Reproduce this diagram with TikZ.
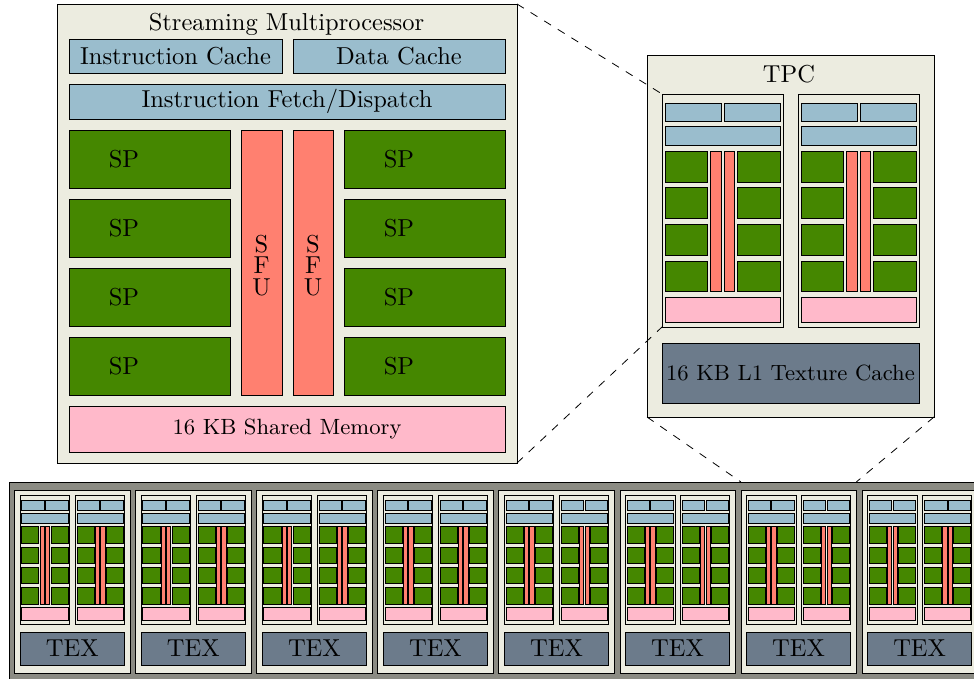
\documentclass[tikz,border=0pt]{standalone}
\usepackage{xcolor}
\usepackage{tikz}
\usetikzlibrary{positioning}
\definecolor{cIvory}{HTML}{ECECE0}
\definecolor{cGrey}{HTML}{8B8B83}
\definecolor{cBlue}{HTML}{9ABDCD}
\definecolor{cGreen}{HTML}{458700}
\definecolor{cSalmon}{HTML}{FF8070}
\definecolor{cPink}{HTML}{FFB9CA}
\definecolor{cSlate}{HTML}{6C7B8B}

% ---------- Helper macro: box from pixel corners ----------
\newcommand{\pxbox}[7]{%
  \pgfmathsetmacro{\bw}{#5-#3}
  \pgfmathsetmacro{\bh}{#6-#4}
  \node[#2, minimum width=\bw pt, minimum height=\bh pt] (#1) at ({(#3+#5)/2},{(#4+#6)/2}) {#7};
}
% ---------- Helper macro: one block, relative to the core origin ----------
\newcommand{\coreblk}[6]{%
  \pgfmathsetmacro{\xa}{\ox+#3*\sx}
  \pgfmathsetmacro{\ya}{\oy+#4*\sy}
  \pgfmathsetmacro{\xb}{\ox+#5*\sx}
  \pgfmathsetmacro{\yb}{\oy+#6*\sy}
  \pxbox{#1}{#2}{\xa}{\ya}{\xb}{\yb}{}
}
% ---------- Helper macro: blocks of a multiprocessor ----------
% #1 name, #2 #3 origin, #4 #5 scale
\newcommand{\smcore}[5]{%
  \def\ox{#2}\def\oy{#3}\def\sx{#4}\def\sy{#5}
  \coreblk{#1-ic}{cache}{0}{0}{213}{34}
  \coreblk{#1-dc}{cache}{224}{0}{436}{34}
  \coreblk{#1-ifd}{cache}{0}{45}{436}{80}
  \foreach \i/\yt in {1/91,2/160,3/229,4/298}{
    \pgfmathsetmacro{\yy}{\yt+58}
    \coreblk{#1-spl\i}{spblk}{0}{\yt}{161}{\yy}
    \coreblk{#1-spr\i}{spblk}{275}{\yt}{436}{\yy}
  }
  \coreblk{#1-sfa}{sfublk}{172}{91}{213}{356}
  \coreblk{#1-sfb}{sfublk}{224}{91}{264}{356}
  \coreblk{#1-mem}{memblk}{0}{367}{436}{413}
}

\begin{document}
\begin{tikzpicture}[
    x=1pt, y=-1pt,
    blk/.style={draw=black, line width=0.9pt, inner sep=0pt, outer sep=0pt},
    frame/.style={blk, fill=cIvory},
    cache/.style={blk, fill=cBlue},
    spblk/.style={blk, fill=cGreen},
    sfublk/.style={blk, fill=cSalmon},
    memblk/.style={blk, fill=cPink},
    texblk/.style={blk, fill=cSlate},
    strip/.style={blk, fill=cGrey},
    lab/.style={font=\normalsize, scale=2.45, inner sep=0pt},
    smalllab/.style={font=\small, scale=2.45, inner sep=0pt},
    zoomline/.style={draw=black, line width=0.8pt, dash pattern=on 8pt off 8pt},
]
\useasboundingbox (0,0) rectangle (974,679);

% ---------- Streaming multiprocessor ----------
\pxbox{sm}{frame}{57}{4}{517}{463}{}
\node[lab] (smtitle) at (286.5,24) {Streaming Multiprocessor};
\smcore{sm}{69}{39}{1}{1}
\node[lab] (ictext) at (sm-ic) {Instruction Cache};
\node[lab] (dctext) at (sm-dc) {Data Cache};
\node[lab] (ifdtext) at (sm-ifd) {Instruction Fetch/Dispatch};
\foreach \i in {1,2,3,4}{
  \node[lab] (spl\i text) at ([xshift=-25.5pt]sm-spl\i.center) {SP};
  \node[lab] (spr\i text) at ([xshift=-25.5pt]sm-spr\i.center) {SP};
}
\node[lab, align=center] (sfatext) at ([yshift=-3pt]sm-sfa.center) {S\\[-3.2pt]F\\[-3.2pt]U};
\node[lab, align=center] (sfbtext) at ([yshift=-3pt]sm-sfb.center) {S\\[-3.2pt]F\\[-3.2pt]U};
\node[smalllab] (memtext) at (sm-mem) {16 KB Shared Memory};

% ---------- TPC ----------
\pxbox{tpc}{frame}{647}{55}{934}{417}{}
\node[lab] (tpctitle) at (789,74) {TPC};
\pxbox{tpca}{frame}{662}{94}{783}{327}{}
\pxbox{tpcb}{frame}{798}{94}{919}{327}{}
\smcore{tpca-c}{665}{103}{0.2640}{0.5303}
\smcore{tpcb-c}{801}{103}{0.2640}{0.5303}
\pxbox{tpctex}{texblk}{662}{343}{919}{403}{}
\node[smalllab] (tpctextext) at (tpctex) {16 KB L1 Texture Cache};

% ---------- Row of TPCs ----------
\begin{scope}
\clip (0,0) rectangle (974,679);
\pxbox{row}{strip}{9}{482}{1000}{700}{}
\foreach \t in {0,...,7}{
  \pgfmathsetmacro{\tx}{14.7+121.05*\t}
  \pgfmathsetmacro{\txe}{\tx+115.3}
  \pxbox{tile\t}{frame}{\tx}{490.7}{\txe}{673}{}
  \pgfmathsetmacro{\ax}{\tx+5.5}
  \pgfmathsetmacro{\axe}{\ax+49.5}
  \pgfmathsetmacro{\bx}{\tx+60.7}
  \pgfmathsetmacro{\bxe}{\bx+49}
  \pxbox{tile\t-a}{frame}{\ax}{495.3}{\axe}{624}{}
  \pxbox{tile\t-b}{frame}{\bx}{495.3}{\bxe}{624}{}
  \pgfmathsetmacro{\acx}{\ax+1.6}
  \pgfmathsetmacro{\bcx}{\bx+1.6}
  \smcore{tile\t-ac}{\acx}{500.5}{0.1062}{0.2906}
  \smcore{tile\t-bc}{\bcx}{500.5}{0.1062}{0.2906}
  \pxbox{tile\t-tex}{texblk}{\ax}{632}{\bxe}{665}{}
  \node[lab] (tile\t-text) at (tile\t-tex) {TEX};
}
\end{scope}

% ---------- Zoom lines ----------
\coordinate (rowl) at (tile6.north west |- row.north);
\coordinate (rowr) at (tile6.north east |- row.north);
\draw[zoomline] (sm.north east) -- (tpca.north west);
\draw[zoomline] (sm.south east) -- (tpca.south west);
\draw[zoomline] (tpc.south west) -- (rowl);
\draw[zoomline] (tpc.south east) -- (rowr);

\end{tikzpicture}
\end{document}
